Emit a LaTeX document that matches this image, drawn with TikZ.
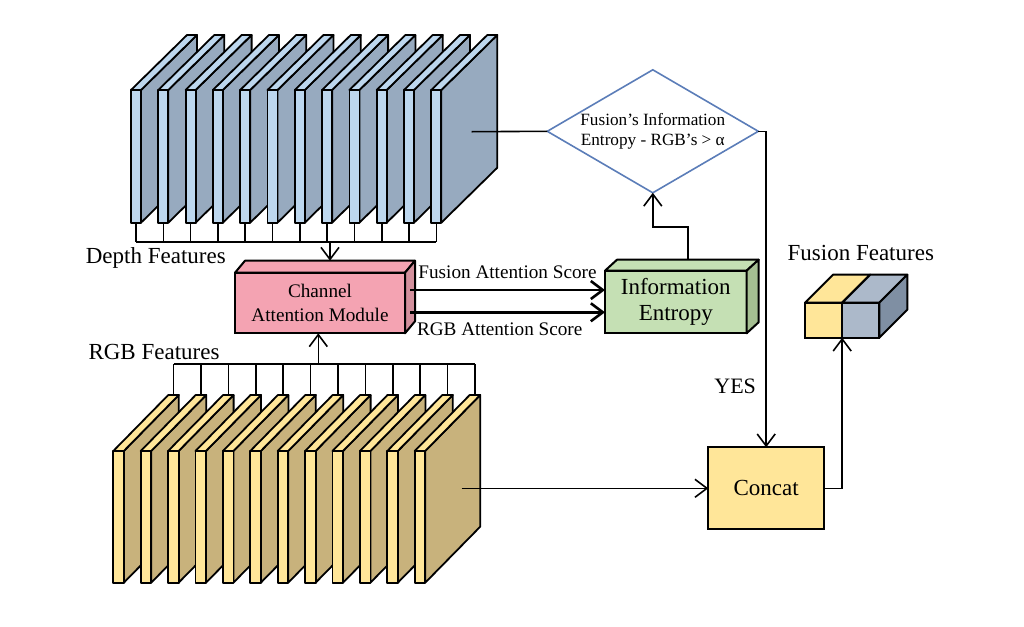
\documentclass[tikz,border=0pt]{standalone}
\usepackage{fontspec}
\setmainfont{Liberation Serif}
\usetikzlibrary{arrows.meta,positioning,calc,shapes.geometric}

\definecolor{depthfront}{HTML}{BDD7EE}
\definecolor{depthside}{HTML}{97AABF}
\definecolor{rgbfront}{HTML}{FFE699}
\definecolor{rgbside}{HTML}{C8B27C}
\definecolor{campink}{HTML}{F4A3B2}
\definecolor{camside}{HTML}{D3909D}
\definecolor{entgreen}{HTML}{C5E0B4}
\definecolor{entside}{HTML}{A5BF92}
\definecolor{fusblue}{HTML}{ACB9CA}
\definecolor{fusside}{HTML}{7F8FA3}
\definecolor{diablue}{HTML}{5B7DB8}

\tikzset{
  slab/.style={draw=black, line width=0.9pt, line join=round},
  wire/.style={draw, line width=0.8pt},
  arr/.style={draw, line width=0.8pt, -{Straight Barb[length=6pt,width=9pt]}},
  bigarr/.style={draw, line width=1.3pt, -{Straight Barb[length=6pt,width=9pt]}},
  box/.style={draw, line width=1pt, outer sep=0pt, inner sep=1pt, align=center},
  face/.style={draw, line width=1pt, line join=round},
}

\begin{document}
\begin{tikzpicture}[x=0.5pt, y=-0.5pt, every node/.style={font=\fontsize{11.5}{13.8}\selectfont}]
    \useasboundingbox (0,0) rectangle (1024,627);
    % depth feature slabs
    \foreach \i in {0,...,11} {
        \pgfmathsetmacro\xs{131+27.3*\i}
        \draw[slab, fill=depthside] (\xs+10,90) -- ++(56,-55) -- ++(0,132.7) -- ++(-56,55) -- cycle;
        \draw[slab, fill=depthfront] (\xs,90) -- ++(56,-55) -- ++(10,0) -- ++(-56,55) -- cycle;
        \draw[slab, fill=depthfront] (\xs,90) rectangle ++(10,132.7);
        \coordinate (d\i) at (\xs+5,222.7);
    }
    % rgb feature slabs
    \foreach \i in {0,...,11} {
        \pgfmathsetmacro\xs{113.3+27.4*\i}
        \draw[slab, fill=rgbside] (\xs+10.5,451) -- ++(55,-56) -- ++(0,131.7) -- ++(-55,56) -- cycle;
        \draw[slab, fill=rgbfront] (\xs,451) -- ++(55,-56) -- ++(10.5,0) -- ++(-55,56) -- cycle;
        \draw[slab, fill=rgbfront] (\xs,451) rectangle ++(10.5,131.7);
        \coordinate (r\i) at (\xs+60.25,395);
    }
    \coordinate (dbus) at (330,241.7);
    \coordinate (rbus) at (318.3,364);
    \coordinate (dout) at (471.7,131.7);
    \coordinate (rout) at (461.7,488.3);

    \node (dlab) at (155.8,258.3) {Depth Features};
    \node (rlab) at (154,351.7) {RGB Features};
    \node (flab) at (860.8,252.7) {Fusion Features};

    % channel attention module
    \node[box, fill=campink, minimum width=85pt, minimum height=30.3pt,
          font=\fontsize{9.6}{11.7}\selectfont] (cam) at (320,303) {Channel\\Attention Module};
    \draw[face, fill=campink] (cam.north west) -- ++(10,-12) -- ++(170,0) -- (cam.north east) -- cycle;
    \draw[face, fill=camside] (cam.north east) -- ++(10,-12) -- ++(0,60.6) -- (cam.south east) -- cycle;

    % information entropy
    \node[box, fill=entgreen, minimum width=70.8pt, minimum height=31.3pt,
          font=\fontsize{11.5}{13.3}\selectfont] (ent) at (675.8,302) {Information\\Entropy};
    \draw[face, fill=entgreen] (ent.north west) -- ++(12,-11) -- ++(141.7,0) -- (ent.north east) -- cycle;
    \draw[face, fill=entside] (ent.north east) -- ++(12,-11) -- ++(0,62.6) -- (ent.south east) -- cycle;

    % decision
    \node[draw=diablue, line width=0.8pt, shape=diamond, aspect=1.715, inner sep=0pt, outer sep=0pt,
          minimum width=105.5pt, minimum height=61.5pt, align=center,
          font=\fontsize{8.6}{10.3}\selectfont] (dia) at (652.8,131.3)
          {Fusion’s Information\\Entropy - RGB’s > α};

    % concat
    \node[box, fill=rgbfront, minimum width=57.9pt, minimum height=41pt] (concat) at (766.2,488.3) {Concat};

    % fusion features cube
    \node[box, minimum width=37.15pt, minimum height=17.5pt] (fus) at (842.2,320.2) {};
    \draw[face, fill=rgbfront] (fus.south west) rectangle (fus.north);
    \draw[face, fill=fusblue] (fus.south) rectangle (fus.north east);
    \draw[face, fill=rgbfront] (fus.north west) -- ++(28,-28) -- ++(37.15,0) -- (fus.north) -- cycle;
    \draw[face, fill=fusblue] (fus.north) -- ++(28,-28) -- ++(37.15,0) -- (fus.north east) -- cycle;
    \draw[face, fill=fusside] (fus.north east) -- ++(28,-28) -- ++(0,35) -- (fus.south east) -- cycle;

    % depth taps
    \foreach \i in {0,...,11} \draw[wire] (d\i) -- (d\i |- dbus);
    \draw[wire] (d0 |- dbus) -- (d11 |- dbus);
    \draw[arr] (dbus) -- ($(cam.north)+(10,-12)$);
    % rgb taps
    \foreach \i in {0,...,11} \draw[wire] (r\i) -- (r\i |- rbus);
    \draw[wire] (r0 |- rbus) -- (r11 |- rbus);
    \draw[arr] (rbus) -- (rbus |- cam.south);

    % attention scores
    \coordinate (fs) at ($(cam.east)+(5,-13)$);
    \coordinate (rs) at ($(cam.east)+(5,9.3)$);
    \draw[bigarr] (fs) -- node[above=1.5pt, font=\fontsize{9.6}{11.7}\selectfont] {Fusion Attention Score} (fs -| ent.west);
    \draw[bigarr] (rs) -- node[below=1.5pt, pos=0.46, font=\fontsize{9.6}{11.7}\selectfont] {RGB Attention Score} (rs -| ent.west);

    \draw[arr] ($(ent.north)+(12,-11)$) -- ++(0,-33) -| (dia.south);
    \draw[wire] (dout) -- (dia.west);
    \draw[arr] (dia.east) -| (concat.north);
    \node[anchor=east, font=\fontsize{11}{13}\selectfont] (yes) at (763,386) {YES};
    \draw[arr] (rout) -- (concat.west);
    \draw[arr] (concat.east) -| (fus.south);
\end{tikzpicture}
\end{document}
